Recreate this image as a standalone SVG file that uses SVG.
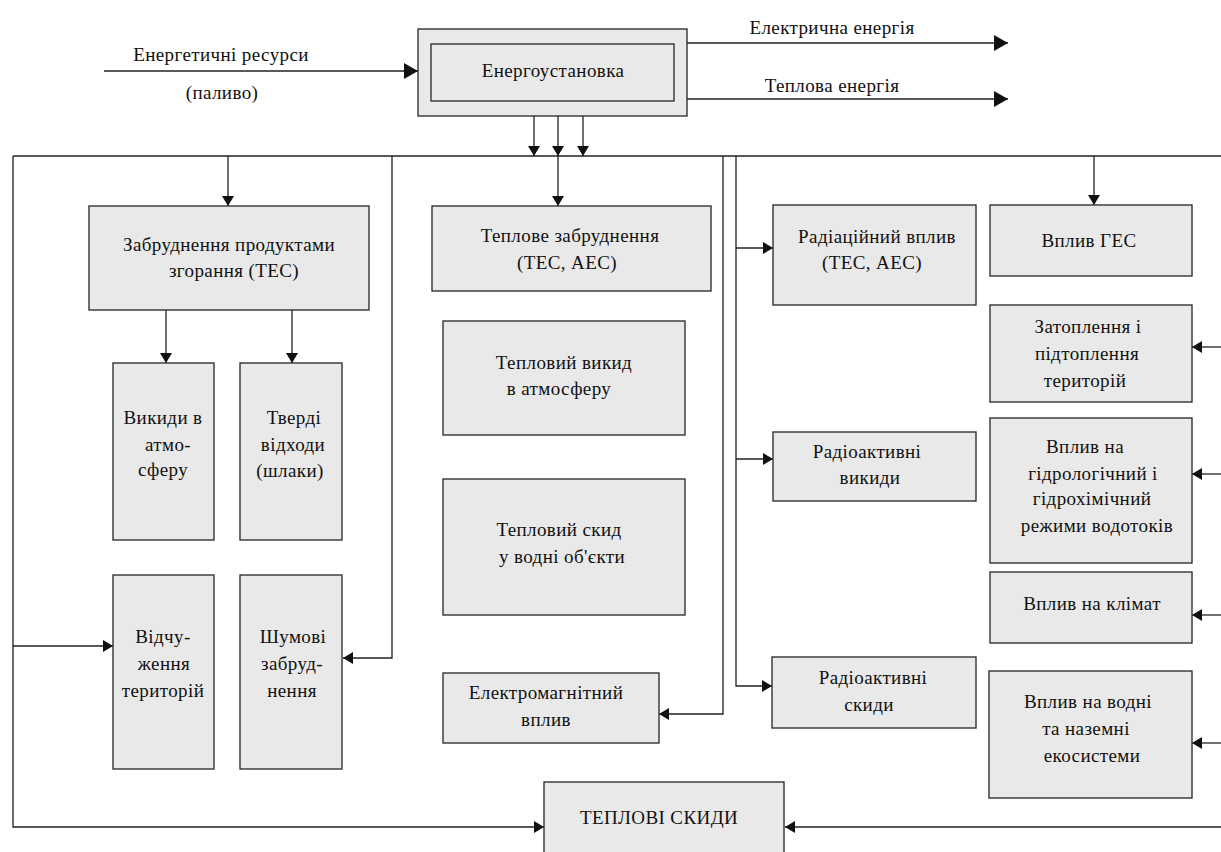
<svg xmlns="http://www.w3.org/2000/svg" width="1221" height="852" viewBox="0 0 1221 852">
<style>
.box{fill:#e9e9e9;stroke:#333;stroke-width:1.4}
.ln{fill:none;stroke:#222;stroke-width:1.3}
text{font-family:'Liberation Serif','Times New Roman','DejaVu Serif',serif;font-size:19px;fill:#111;text-anchor:middle;letter-spacing:0.4px}
</style>
<defs>
<marker id="a" markerUnits="userSpaceOnUse" markerWidth="10" markerHeight="12" refX="10" refY="6" orient="auto"><path d="M0,0 L10,6 L0,12 z" fill="#111"/></marker>
<marker id="b" markerUnits="userSpaceOnUse" markerWidth="14" markerHeight="16" refX="14" refY="8" orient="auto"><path d="M0,0 L14,8 L0,16 z" fill="#111"/></marker>
</defs>
<rect width="1221" height="852" fill="#fff"/>
<g id="connectors">
<path class="ln" d="M104,71 H418" marker-end="url(#b)"/>
<path class="ln" d="M687,43 H1008" marker-end="url(#b)"/>
<path class="ln" d="M687,99 H1008" marker-end="url(#b)"/>
<path class="ln" d="M534,116 V156" marker-end="url(#a)"/>
<path class="ln" d="M558,116 V156" marker-end="url(#a)"/>
<path class="ln" d="M583,116 V156" marker-end="url(#a)"/>
<path class="ln" d="M13,156 H1221"/>
<path class="ln" d="M13,156 V827 H544" marker-end="url(#a)"/>
<path class="ln" d="M13,646 H113" marker-end="url(#a)"/>
<path class="ln" d="M228,156 V206" marker-end="url(#a)"/>
<path class="ln" d="M392,156 V658 H343" marker-end="url(#a)"/>
<path class="ln" d="M166,310 V363" marker-end="url(#a)"/>
<path class="ln" d="M292,310 V363" marker-end="url(#a)"/>
<path class="ln" d="M558,156 V206" marker-end="url(#a)"/>
<path class="ln" d="M723,156 V714 H659" marker-end="url(#a)"/>
<path class="ln" d="M736,156 V686 H772" marker-end="url(#a)"/>
<path class="ln" d="M736,248 H773" marker-end="url(#a)"/>
<path class="ln" d="M736,459 H773" marker-end="url(#a)"/>
<path class="ln" d="M1094,156 V205" marker-end="url(#a)"/>
<path class="ln" d="M1221,347 H1192" marker-end="url(#a)"/>
<path class="ln" d="M1221,474 H1192" marker-end="url(#a)"/>
<path class="ln" d="M1221,615 H1192" marker-end="url(#a)"/>
<path class="ln" d="M1221,743 H1192" marker-end="url(#a)"/>
<path class="ln" d="M1221,827 H785" marker-end="url(#a)"/>
</g>
<g id="labels">
<text x="221" y="61">Енергетичні ресурси</text>
<text x="222" y="99">(паливо)</text>
<text x="832" y="34">Електрична енергія</text>
<text x="832" y="92">Теплова енергія</text>
</g>
<g id="energoustanovka">
<rect class="box" x="418" y="29" width="269" height="87"/>
<rect class="box" x="431" y="44" width="243" height="57"/>
<text x="553" y="77">Енергоустановка</text>
</g>
<g id="zabrudnennia">
<rect class="box" x="89" y="206" width="280" height="104"/>
<text x="229" y="251">Забруднення продуктами</text>
<text x="234" y="277">згорання (ТЕС)</text>
</g>
<g id="vykydy">
<rect class="box" x="113" y="363" width="101" height="177"/>
<text x="163" y="424">Викиди в</text>
<text x="168" y="451">атмо-</text>
<text x="163" y="476">сферу</text>
</g>
<g id="tverdi">
<rect class="box" x="240" y="363" width="102" height="177"/>
<text x="294" y="424">Тверді</text>
<text x="293" y="451">відходи</text>
<text x="290" y="477">(шлаки)</text>
</g>
<g id="vidchuzhennia">
<rect class="box" x="113" y="575" width="101" height="194"/>
<text x="163" y="643">Відчу-</text>
<text x="164" y="670">ження</text>
<text x="163" y="697">територій</text>
</g>
<g id="shumovi">
<rect class="box" x="240" y="575" width="102" height="194"/>
<text x="293" y="643">Шумові</text>
<text x="292" y="670">забруд-</text>
<text x="292" y="697">нення</text>
</g>
<g id="teplove">
<rect class="box" x="432" y="206" width="279" height="85"/>
<text x="570" y="242">Теплове забруднення</text>
<text x="567" y="269">(ТЕС, АЕС)</text>
</g>
<g id="teplovyi-vykyd">
<rect class="box" x="443" y="321" width="242" height="114"/>
<text x="564" y="369">Тепловий викид</text>
<text x="559" y="395">в атмосферу</text>
</g>
<g id="teplovyi-skyd">
<rect class="box" x="443" y="479" width="242" height="136"/>
<text x="559" y="536">Тепловий скид</text>
<text x="562" y="563">у водні об'єкти</text>
</g>
<g id="elektromagnitnyi">
<rect class="box" x="443" y="673" width="216" height="70"/>
<text x="546" y="699">Електромагнітний</text>
<text x="546" y="726">вплив</text>
</g>
<g id="teplovi-skydy">
<rect class="box" x="544" y="782" width="240" height="80"/>
<text x="659" y="824">ТЕПЛОВІ СКИДИ</text>
</g>
<g id="radiatsiinyi">
<rect class="box" x="773" y="205" width="203" height="100"/>
<text x="877" y="243">Радіаційний вплив</text>
<text x="872" y="269">(ТЕС, АЕС)</text>
</g>
<g id="radioaktyvni-vykydy">
<rect class="box" x="773" y="432" width="203" height="69"/>
<text x="867" y="458">Радіоактивні</text>
<text x="870" y="484">викиди</text>
</g>
<g id="radioaktyvni-skydy">
<rect class="box" x="772" y="657" width="204" height="71"/>
<text x="873" y="684">Радіоактивні</text>
<text x="869" y="711">скиди</text>
</g>
<g id="vplyv-hes">
<rect class="box" x="990" y="205" width="202" height="71"/>
<text x="1089" y="247">Вплив ГЕС</text>
</g>
<g id="zatoplennia">
<rect class="box" x="990" y="305" width="202" height="97"/>
<text x="1088" y="333">Затоплення і</text>
<text x="1087" y="360">підтоплення</text>
<text x="1085" y="387">територій</text>
</g>
<g id="hidrolohichnyi">
<rect class="box" x="990" y="418" width="202" height="145"/>
<text x="1085" y="453">Вплив на</text>
<text x="1093" y="480">гідрологічний і</text>
<text x="1092" y="505">гідрохімічний</text>
<text x="1097" y="532">режими водотоків</text>
</g>
<g id="klimat">
<rect class="box" x="990" y="572" width="202" height="71"/>
<text x="1092" y="610">Вплив на клімат</text>
</g>
<g id="ekosystemy">
<rect class="box" x="989" y="671" width="203" height="127"/>
<text x="1088" y="708">Вплив на водні</text>
<text x="1086" y="735">та наземні</text>
<text x="1092" y="762">екосистеми</text>
</g>
</svg>
